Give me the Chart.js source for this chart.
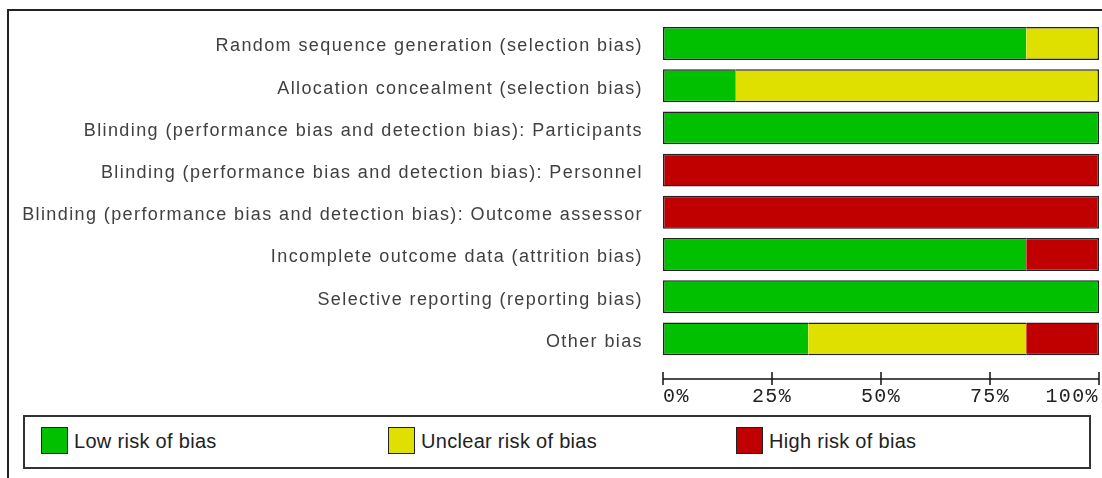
<!DOCTYPE html>
<html>
<head>
<meta charset="utf-8">
<script src="https://cdn.jsdelivr.net/npm/chart.js@4"></script>
<style>
  html, body { margin: 0; padding: 0; background: #fff; }
  body { width: 1102px; height: 478px; position: relative; overflow: hidden; }
  .frame {
    position: absolute; left: 7px; top: 9px; width: 1110px; height: 480px;
    border-top: 2px solid #222; border-left: 2px solid #222;
  }
  .chart-wrap { position: absolute; left: 0; top: 0; width: 1102px; height: 410px; }
  .rob-legend {
    position: absolute; left: 23px; top: 415px; width: 1064px; height: 50px;
    border: 2px solid #333; box-sizing: content-box;
    font-family: "Liberation Sans", Arial, sans-serif; font-size: 20px; color: #222;
    letter-spacing: 0.3px;
  }
  .rob-legend .item { position: absolute; top: 10px; height: 28px; line-height: 28px; white-space: nowrap; }
  .rob-legend .swatch {
    display: inline-block; width: 25px; height: 25px; border: 1px solid #222;
    vertical-align: top; margin-right: 6px;
  }
</style>
</head>
<body>
<div class="frame"></div>
<div class="chart-wrap"><canvas id="robChart"></canvas></div>
<div class="rob-legend" id="robLegend"></div>

<script>
// Risk of bias graph data (percent of studies)
const domains = [
  "Random sequence generation (selection bias)",
  "Allocation concealment (selection bias)",
  "Blinding (performance bias and detection bias): Participants",
  "Blinding (performance bias and detection bias): Personnel",
  "Blinding (performance bias and detection bias): Outcome assessor",
  "Incomplete outcome data (attrition bias)",
  "Selective reporting (reporting bias)",
  "Other bias",
];
const lowRisk     = [83.3, 16.7, 100, 0,   0,   83.3, 100, 33.3];
const unclearRisk = [16.7, 83.3, 0,   0,   0,   0,    0,   50];
const highRisk    = [0,    0,    0,   100, 100, 16.7, 0,   16.7];
const axisTicks = [0, 25, 50, 75, 100];

const seriesNames = ["Low risk of bias", "Unclear risk of bias", "High risk of bias"];
const seriesColors = ["#00c000", "#e0e000", "#c00000"];
const allSeries = [lowRisk, unclearRisk, highRisk];

// only draw outer edges of each stacked bar, no line between segments
function segmentBorder(ctx) {
  const i = ctx.dataIndex, d = ctx.datasetIndex;
  if (!allSeries[d][i]) return 0;
  let first = true, last = true;
  for (let k = 0; k < d; k++) if (allSeries[k][i]) first = false;
  for (let k = d + 1; k < allSeries.length; k++) if (allSeries[k][i]) last = false;
  return { top: 1.5, bottom: 1.5, left: first ? 1.5 : 0, right: last ? 1.5 : 0 };
}

// the original text is a bit spread out
const spacingPlugin = {
  id: "robSpacing",
  beforeInit(chart) { chart.ctx.letterSpacing = "1.4px"; },
  beforeUpdate(chart) { chart.ctx.letterSpacing = "1.4px"; },
  beforeDraw(chart) { chart.ctx.letterSpacing = "1.4px"; },
};

// axis line + tick marks sit a bit below the last bar
const axisPlugin = {
  id: "robAxis",
  afterDraw(chart) {
    const { ctx, chartArea, scales } = chart;
    const x = scales.x;
    const y = chartArea.bottom + 19;
    ctx.save();
    ctx.strokeStyle = "#111";
    ctx.lineWidth = 1.5;
    ctx.beginPath();
    ctx.moveTo(x.getPixelForValue(0), y);
    ctx.lineTo(x.getPixelForValue(100), y);
    axisTicks.forEach(v => {
      const px = x.getPixelForValue(v);
      ctx.moveTo(px, y - 7);
      ctx.lineTo(px, y + 6);
    });
    ctx.stroke();
    ctx.restore();
  }
};

const chart = new Chart(document.getElementById("robChart"), {
  type: "bar",
  data: {
    labels: domains,
    datasets: seriesNames.map((name, idx) => ({
      label: name,
      data: allSeries[idx],
      backgroundColor: seriesColors[idx],
      borderColor: "#222",
      borderWidth: segmentBorder,
      borderSkipped: false,
      categoryPercentage: 1,
      barPercentage: 0.78,
    })),
  },
  options: {
    indexAxis: "y",
    responsive: true,
    maintainAspectRatio: false,
    animation: false,
    layout: { padding: { top: 22.4, right: 3, left: 0, bottom: 0 } },
    plugins: { legend: { display: false }, tooltip: { enabled: false } },
    scales: {
      x: {
        stacked: true,
        min: 0,
        max: 100,
        afterBuildTicks(scale) { scale.ticks = axisTicks.map(v => ({ value: v })); },
        afterFit(scale) {
          scale.height = 50;
          scale.paddingLeft = 0;
          scale.paddingRight = 0;
        },
        grid: { display: false, drawTicks: false },
        border: { display: false },
        ticks: {
          align: "inner",
          padding: 24.5,
          color: "#222",
          font: { family: "'Liberation Mono', monospace", size: 20 },
          callback: v => v + "%",
        },
      },
      y: {
        stacked: true,
        afterFit(scale) {
          scale.width = 663;
          scale.paddingTop = 0;
          scale.paddingBottom = 0;
        },
        grid: { display: false, drawTicks: false },
        border: { display: false },
        ticks: {
          padding: 20,
          labelOffset: 3,
          color: "#404040",
          font: { family: "'Liberation Sans', Arial, sans-serif", size: 18 },
        },
      },
    },
  },
  plugins: [spacingPlugin, axisPlugin],
});

// legend
const legendEl = document.getElementById("robLegend");
const legendLeft = [16, 363, 711];
seriesNames.forEach((name, idx) => {
  const item = document.createElement("div");
  item.className = "item";
  item.style.left = legendLeft[idx] + "px";
  item.innerHTML = '<span class="swatch" style="background:' + seriesColors[idx] + '"></span>' + name;
  legendEl.appendChild(item);
});
</script>
</body>
</html>
